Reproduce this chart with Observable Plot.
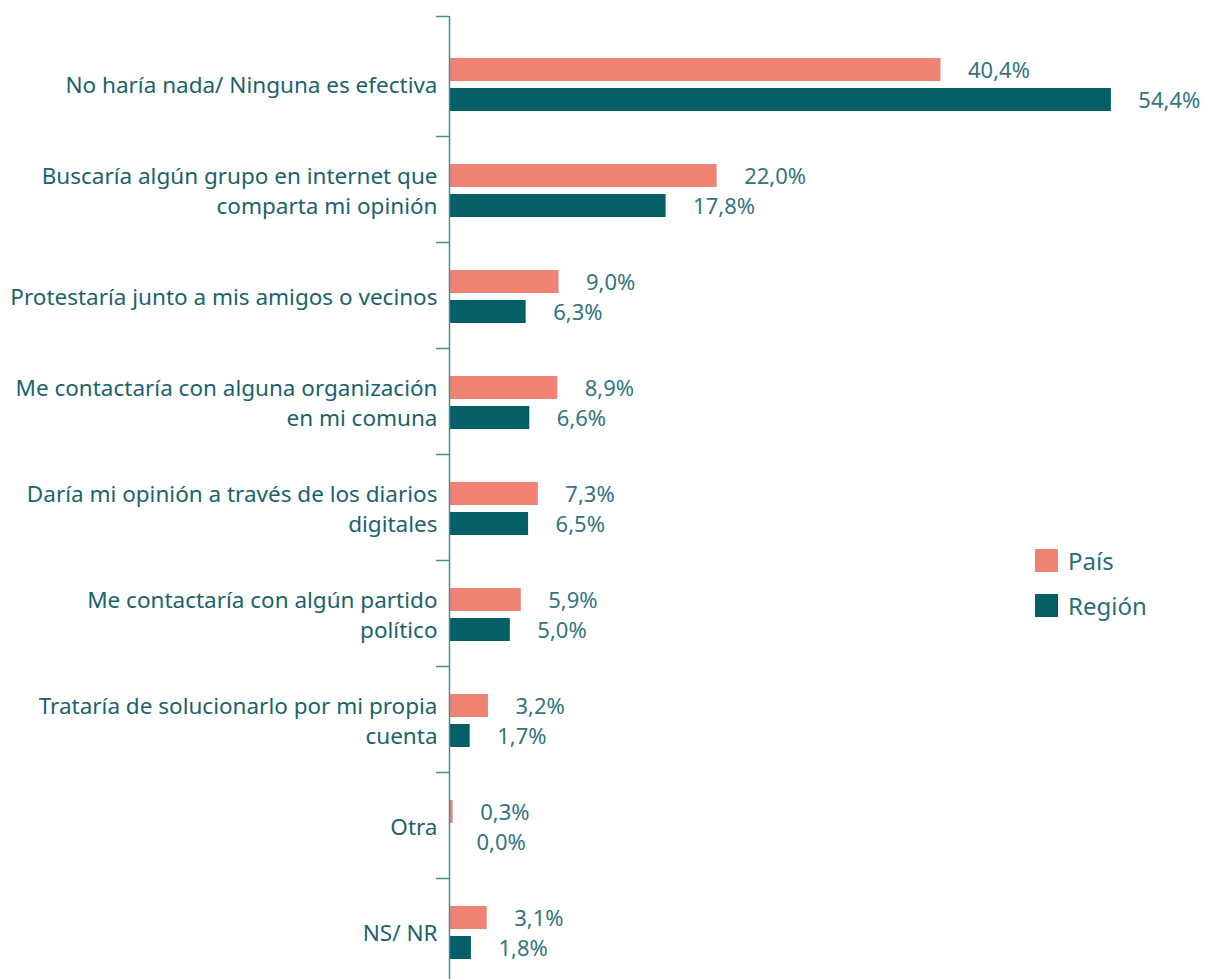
<!DOCTYPE html>
<html>
<head>
<meta charset="utf-8">
<script src="https://cdn.jsdelivr.net/npm/d3@7"></script>
<script src="https://cdn.jsdelivr.net/npm/@observablehq/plot@0.6"></script>
<style>
  body { margin: 0; background: white; font-family: "Noto Sans", sans-serif; }
  #wrap { position: relative; width: 1207px; height: 979px; overflow: hidden; }
  #legend { position: absolute; left: 1035px; top: 538px; font-size: 24px; color: #2a6e75; }
  #legend .row { display: flex; align-items: center; height: 45px; }
  #legend .sw { width: 23px; height: 23px; margin-right: 10px; }
</style>
</head>
<body>
<div id="wrap"></div>
<script>
const categories = [
  "No haría nada/ Ninguna es efectiva",
  "Buscaría algún grupo en internet que comparta mi opinión",
  "Protestaría junto a mis amigos o vecinos",
  "Me contactaría con alguna organización en mi comuna",
  "Daría mi opinión a través de los diarios digitales",
  "Me contactaría con algún partido político",
  "Trataría de solucionarlo por mi propia cuenta",
  "Otra",
  "NS/ NR"
];
const tickLabels = [
  "No haría nada/ Ninguna es efectiva",
  "Buscaría algún grupo en internet que\ncomparta mi opinión",
  "Protestaría junto a mis amigos o vecinos",
  "Me contactaría con alguna organización\nen mi comuna",
  "Daría mi opinión a través de los diarios\ndigitales",
  "Me contactaría con algún partido\npolítico",
  "Trataría de solucionarlo por mi propia\ncuenta",
  "Otra",
  "NS/ NR"
];
const series = ["País", "Región"];
const pais = [40.4, 22.0, 9.0, 8.9, 7.3, 5.9, 3.2, 0.3, 3.1];
const region = [54.4, 17.8, 6.3, 6.6, 6.5, 5.0, 1.7, 0.0, 1.8];

const colors = {"País": "#f08273", "Región": "#055e66"};
const labelOf = new Map(categories.map((c, i) => [c, tickLabels[i]]));
const paisData = categories.map((c, i) => ({cat: c, v: pais[i]}));
const regionData = categories.map((c, i) => ({cat: c, v: region[i]}));
const fmt = v => v.toFixed(1).replace(".", ",") + "%";

const chart = Plot.plot({
  width: 1207,
  height: 979,
  marginLeft: 449,
  marginRight: 28,
  marginTop: 16,
  marginBottom: 0,
  style: {fontFamily: "Noto Sans, sans-serif", background: "white", overflow: "visible"},
  x: {domain: [0, 60], axis: null},
  y: {domain: categories, range: [30, 984], padding: 0},
  marks: [
    Plot.barX(paisData, {y: "cat", x: "v", fill: colors["País"], insetTop: 28, insetBottom: 55}),
    Plot.barX(regionData, {y: "cat", x: "v", fill: colors["Región"], insetTop: 58, insetBottom: 25}),
    Plot.text(paisData, {y: "cat", x: "v", text: d => fmt(d.v), dx: 27, dy: -13, textAnchor: "start",
      fill: "#33757c", fontSize: 22}),
    Plot.text(regionData, {y: "cat", x: "v", text: d => fmt(d.v), dx: 27, dy: 17, textAnchor: "start",
      fill: "#33757c", fontSize: 22}),
    Plot.ruleX([0], {stroke: "#4a8b92", strokeWidth: 1.5}),
    Plot.ruleY(categories.slice(1), {x1: -1.07, x2: 0, dy: -53, stroke: "#4a8b92", strokeWidth: 1.5}),
    Plot.ruleY(categories.slice(0, 1), {x1: -1.07, x2: 0, dy: -67, stroke: "#4a8b92", strokeWidth: 1.5}),
    Plot.axisY({tickSize: 0, tickPadding: 12, fontSize: 22.5, fill: "#1b636b", lineHeight: 1.33,
      tickFormat: d => labelOf.get(d), textAnchor: "end", label: null})
  ]
});
document.getElementById("wrap").appendChild(chart);

const legend = document.createElement("div");
legend.id = "legend";
series.forEach(s => {
  const row = document.createElement("div");
  row.className = "row";
  const sw = document.createElement("div");
  sw.className = "sw";
  sw.style.background = colors[s];
  const t = document.createElement("span");
  t.textContent = s;
  row.appendChild(sw);
  row.appendChild(t);
  legend.appendChild(row);
});
document.getElementById("wrap").appendChild(legend);
</script>
</body>
</html>
